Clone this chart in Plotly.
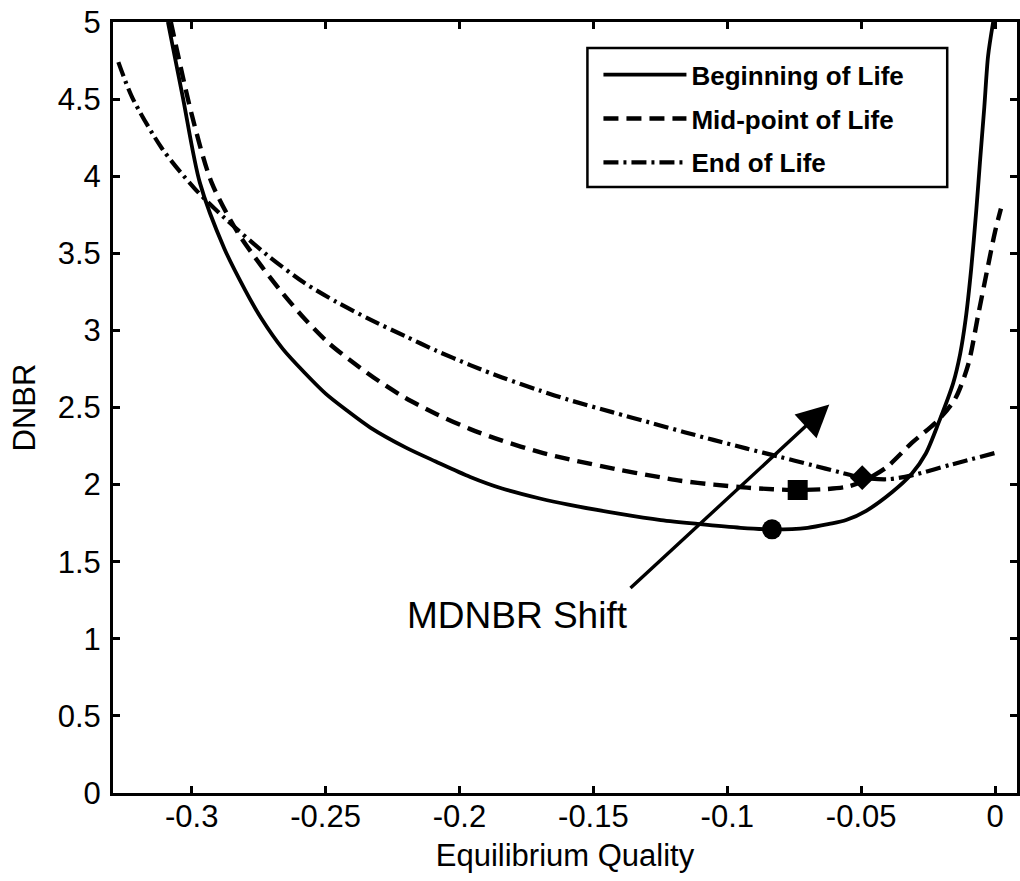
import plotly.graph_objects as go

# DNBR versus equilibrium quality at three points in core life
bol_x = [-0.3089, -0.3033, -0.2970, -0.2878, -0.2800, -0.2741, -0.2660, -0.2581, -0.2500,
         -0.2420, -0.2333, -0.2200, -0.2089, -0.1960, -0.1841, -0.1700, -0.1593, -0.1400,
         -0.1248, -0.1111, -0.0950, -0.0833, -0.0700, -0.0619, -0.0556, -0.0481, -0.0385,
         -0.0311, -0.0259, -0.0211, -0.0156, -0.0130, -0.0110, -0.0089, -0.0070, -0.0056,
         -0.0040, -0.0026, -0.0007]
bol_y = [5.00, 4.51, 3.96, 3.53, 3.26, 3.08, 2.88, 2.73, 2.59,
         2.48, 2.37, 2.24, 2.15, 2.05, 1.975, 1.91, 1.87, 1.81,
         1.77, 1.745, 1.72, 1.71, 1.72, 1.745, 1.77, 1.83, 1.95,
         2.07, 2.20, 2.40, 2.66, 2.85, 3.07, 3.40, 3.78, 4.10,
         4.45, 4.78, 5.00]

mol_x = [-0.3078, -0.3000, -0.2926, -0.2830, -0.2741, -0.2660, -0.2581, -0.2490, -0.2396,
         -0.2300, -0.2200, -0.2089, -0.1960, -0.1841, -0.1700, -0.1593, -0.1400, -0.1274,
         -0.1174, -0.1050, -0.0926, -0.0830, -0.0737, -0.0640, -0.0556, -0.0496, -0.0407,
         -0.0311, -0.0211, -0.0148, -0.0100, -0.0063, -0.0026, 0.0000, 0.0022]
mol_y = [5.00, 4.40, 3.96, 3.64, 3.42, 3.24, 3.08, 2.92, 2.79,
         2.67, 2.56, 2.46, 2.36, 2.285, 2.21, 2.165, 2.095, 2.055,
         2.025, 2.00, 1.98, 1.97, 1.965, 1.97, 1.985, 2.02, 2.11,
         2.27, 2.42, 2.56, 2.78, 3.10, 3.42, 3.64, 3.79]

eol_x = [-0.3274, -0.3222, -0.3111, -0.2989, -0.2878, -0.2719, -0.2581, -0.2460, -0.2333,
         -0.2200, -0.2089, -0.1960, -0.1841, -0.1700, -0.1593, -0.1430, -0.1274, -0.1160,
         -0.1052, -0.0930, -0.0804, -0.0681, -0.0580, -0.0496, -0.0400, -0.0311, -0.0163,
         0.0011]
eol_y = [4.74, 4.51, 4.18, 3.92, 3.73, 3.49, 3.31, 3.185, 3.07,
         2.96, 2.87, 2.775, 2.695, 2.61, 2.55, 2.47, 2.395, 2.34,
         2.29, 2.235, 2.18, 2.125, 2.08, 2.045, 2.035, 2.06, 2.13,
         2.21]

series_names = ["Beginning of Life", "Mid-point of Life", "End of Life"]

# minimum DNBR point for each stage
mdnbr_x = [-0.0833, -0.0737, -0.0496]
mdnbr_y = [1.71, 1.965, 2.045]
mdnbr_symbols = ["circle", "square", "diamond"]
mdnbr_sizes = [20, 20, 19]

# shift arrow, tail -> head
shift_tail = (-0.1367, 1.32)
shift_head = (-0.0619, 2.52)
shift_label = "MDNBR Shift"
shift_label_pos = (-0.1785, 1.15)

x_tick_vals = [-0.3, -0.25, -0.2, -0.15, -0.1, -0.05, 0.0]
x_tick_text = ["-0.3", "-0.25", "-0.2", "-0.15", "-0.1", "-0.05", "0"]
y_tick_vals = [0, 0.5, 1, 1.5, 2, 2.5, 3, 3.5, 4, 4.5, 5]
y_tick_text = ["0", "0.5", "1", "1.5", "2", "2.5", "3", "3.5", "4", "4.5", "5"]

FONT = "Liberation Sans, Arial, sans-serif"

fig = go.Figure()

styles = [("solid", 3.8), ("15px,8px", 4.4), ("15px,5px,3px,5px", 4.2)]
for (xs, ys), name, (dash, w) in zip([(bol_x, bol_y), (mol_x, mol_y), (eol_x, eol_y)],
                                     series_names, styles):
    fig.add_trace(go.Scatter(
        x=xs, y=ys, mode="lines", name=name, legendgroup=name,
        line=dict(color="black", width=w, dash=dash, shape="spline", smoothing=0.8),
    ))

for xv, yv, sym, sz in zip(mdnbr_x, mdnbr_y, mdnbr_symbols, mdnbr_sizes):
    fig.add_trace(go.Scatter(
        x=[xv], y=[yv], mode="markers", showlegend=False,
        marker=dict(symbol=sym, size=sz, color="black"),
    ))

fig.add_annotation(
    x=shift_head[0], y=shift_head[1], ax=shift_tail[0], ay=shift_tail[1],
    xref="x", yref="y", axref="x", ayref="y", text="",
    showarrow=True, arrowhead=2, arrowsize=1.9, arrowwidth=3.4, arrowcolor="black",
)
fig.add_annotation(
    x=shift_label_pos[0], y=shift_label_pos[1], xref="x", yref="y",
    text=shift_label, showarrow=False,
    font=dict(family=FONT, size=37, color="black"),
)

# framed box behind the legend entries
fig.add_shape(
    type="rect", xref="paper", yref="paper",
    x0=0.5248, x1=0.9228, y0=0.786, y1=0.9663,
    line=dict(color="black", width=2.5), fillcolor="white", layer="above",
)

axis_common = dict(
    showline=True, linecolor="black", linewidth=3, mirror="allticks",
    ticks="inside", ticklen=7, tickwidth=3, tickcolor="black",
    showgrid=False, zeroline=False,
    tickfont=dict(family=FONT, size=31, color="black"),
)

fig.update_xaxes(
    range=[-0.3294, 0.0082], tickvals=x_tick_vals, ticktext=x_tick_text,
    ticklabelstandoff=-6,
    title=dict(text="Equilibrium Quality", font=dict(family=FONT, size=31, color="black"),
               standoff=12),
    **axis_common,
)
fig.update_yaxes(
    range=[0, 5], tickvals=y_tick_vals, ticktext=y_tick_text,
    ticklabelstandoff=3,
    title=dict(text="DNBR", font=dict(family=FONT, size=31, color="black"), standoff=13),
    **axis_common,
)

fig.update_layout(
    width=1020, height=881,
    margin=dict(l=113, r=0, t=22, b=88),
    paper_bgcolor="white", plot_bgcolor="white",
    showlegend=True,
    legend=dict(
        x=0.537, y=0.962, xanchor="left", yanchor="top",
        bgcolor="rgba(0,0,0,0)", borderwidth=0,
        font=dict(family=FONT, size=26, color="black", weight="bold"),
        itemwidth=83, tracegroupgap=7,
    ),
)

fig.write_html("out.html")
